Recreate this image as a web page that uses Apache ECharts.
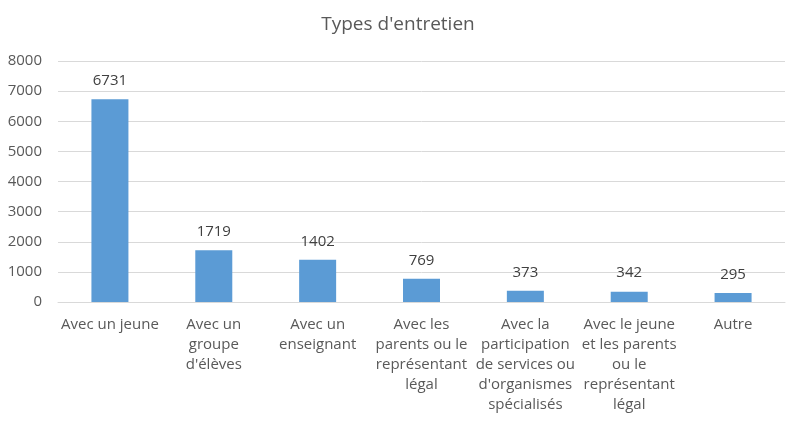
<!DOCTYPE html>
<html>
<head>
<meta charset="utf-8">
<script src="https://cdn.jsdelivr.net/npm/echarts@6/dist/echarts.min.js"></script>
<style>html,body{margin:0;padding:0;background:#fff}#c{width:796px;height:435px}</style>
</head>
<body>
<div id="c"></div>
<script>
var categories = [
  "Avec un jeune",
  "Avec un\ngroupe\nd'élèves",
  "Avec un\nenseignant",
  "Avec les\nparents ou le\nreprésentant\nlégal",
  "Avec la\nparticipation\nde services ou\nd'organismes\nspécialisés",
  "Avec le jeune\net les parents\nou le\nreprésentant\nlégal",
  "Autre"
];
var values = [6731, 1719, 1402, 769, 373, 342, 295];
var titleText = "Types d'entretien";

var chart = echarts.init(document.getElementById('c'));
chart.setOption({
  animation: false,
  title: {
    text: titleText, left: 'center', top: 10,
    textStyle: {fontFamily: 'Open Sans', fontSize: 19, fontWeight: 'normal', color: '#595959'}
  },
  grid: {left: 58, right: 11, top: 61, bottom: 133},
  xAxis: {
    type: 'category', data: categories,
    axisLine: {lineStyle: {color: '#d9d9d9'}},
    axisTick: {show: false},
    axisLabel: {interval: 0, margin: 13, lineHeight: 20, fontFamily: 'Open Sans', fontSize: 15, color: '#595959'}
  },
  yAxis: {
    type: 'value', min: 0, max: 8000, interval: 1000,
    axisLine: {show: false}, axisTick: {show: false},
    splitLine: {lineStyle: {color: '#d9d9d9'}},
    axisLabel: {margin: 16, fontFamily: 'Open Sans', fontSize: 15, color: '#595959',
      formatter: function (v) { return String(v); }}
  },
  series: [{
    type: 'bar', data: values, barWidth: 37,
    itemStyle: {color: '#5b9bd5'},
    label: {show: true, position: 'top', distance: 11, fontFamily: 'Open Sans', fontSize: 15, color: '#404040'}
  }]
});
</script>
</body>
</html>
